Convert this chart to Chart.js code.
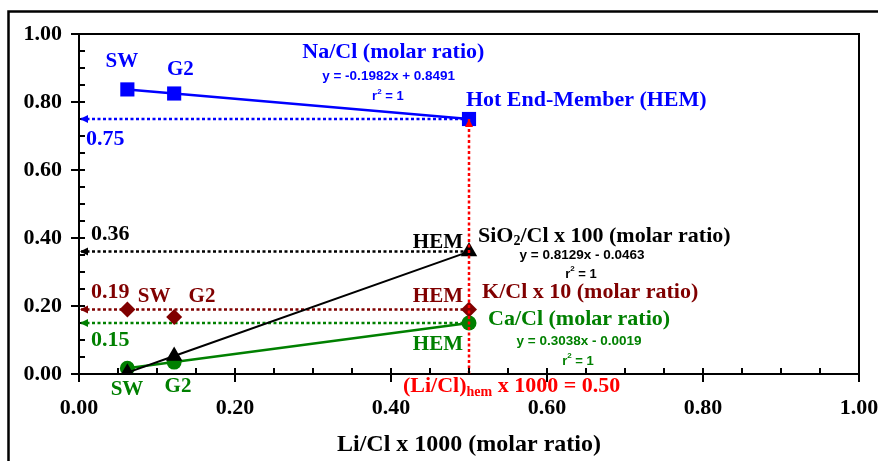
<!DOCTYPE html>
<html><head><meta charset="utf-8">
<script src="https://cdn.jsdelivr.net/npm/chart.js@4.4.1/dist/chart.umd.min.js"></script>
<style>html,body{margin:0;padding:0;background:#fff;overflow:hidden}#wrap{width:878px;height:461px}</style>
</head><body><div id="wrap"><canvas id="c" width="878" height="461"></canvas></div>
<script>
// ---- data ----
const samples = ['SW', 'G2', 'HEM'];
const liCl   = [0.062, 0.122, 0.50];     // Li/Cl x 1000
const naCl   = [0.837, 0.825, 0.750];    // Na/Cl
const sio2Cl = [0.004, 0.053, 0.360];    // SiO2/Cl x 100
const kCl    = [0.190, 0.168, 0.190];    // K/Cl x 10
const caCl   = [0.017, 0.035, 0.150];    // Ca/Cl
const hemLiCl = 0.50;
const axisMin = 0, axisMax = 1, majorStep = 0.2, minorStep = 0.05;

const BLUE = '#0000ff', BLACK = '#000000', DRED = '#800000', GREEN = '#008000', RED = '#ff0000';
const SERIF = "'Liberation Serif', 'Times New Roman', serif";
const SANS = "'Liberation Sans', Arial, sans-serif";
const fS = (px) => `bold ${px}px ${SERIF}`;
const fA = (px) => `bold ${px}px ${SANS}`;

const pts = (ys) => liCl.map((x, i) => ({x, y: ys[i]}));
const hemIdx = samples.indexOf('HEM');
const toAxis = (ys) => [{x: hemLiCl, y: ys[hemIdx]}, {x: axisMin, y: ys[hemIdx]}];

const dotted = (data, color, order) => ({
  data, showLine: true, borderColor: color, borderWidth: 2.5, borderDash: [3, 2.5],
  pointRadius: 0, pointHoverRadius: 0, fill: false, order
});

const datasets = [
  dotted([{x: hemLiCl, y: 0}, {x: hemLiCl, y: naCl[hemIdx]}], RED, -1),
  dotted(toAxis(naCl), BLUE, 5),
  dotted(toAxis(sio2Cl), BLACK, 5),
  dotted(toAxis(kCl), DRED, 5),
  dotted(toAxis(caCl), GREEN, 5),
  {data: pts(naCl), showLine: true, borderColor: BLUE, borderWidth: 2.5, backgroundColor: BLUE,
   pointStyle: 'rect', pointRadius: 10, pointBorderWidth: 0, order: 2},
  {data: pts(caCl), showLine: true, borderColor: GREEN, borderWidth: 2.5, backgroundColor: GREEN,
   pointStyle: 'circle', pointRadius: 7.5, pointBorderWidth: 0, order: 3},
  {data: pts(sio2Cl), showLine: true, borderColor: BLACK, borderWidth: 2, backgroundColor: BLACK,
   pointStyle: 'triangle', pointRadius: 9.5, pointBorderWidth: 0, order: 1},
  {data: pts(kCl), showLine: false, borderColor: DRED, backgroundColor: DRED,
   pointStyle: 'rectRot', pointRadius: 8, pointBorderWidth: 0, order: 2}
];

// text annotations, positioned in axis units
const R = (t, f, dy) => [t, f, dy || 0];
const sup2 = () => [R('r', fA(13)), R('2', fA(8), -5), R(' = 1', fA(13))];
const notes = [
  {x: 0.055, y: 0.918, a: 'center', c: BLUE, s: [R('SW', fS(21))]},
  {x: 0.130, y: 0.894, a: 'center', c: BLUE, s: [R('G2', fS(21))]},
  {x: 0.403, y: 0.947, a: 'center', c: BLUE, s: [R('Na/Cl (molar ratio)', fS(22))]},
  {x: 0.397, y: 0.8765, a: 'center', c: BLUE, s: [R('y = -0.1982x + 0.8491', fA(13.5))]},
  {x: 0.396, y: 0.815, a: 'center', c: BLUE, s: sup2()},
  {x: 0.496, y: 0.806, a: 'left', c: BLUE, s: [R('Hot End-Member (HEM)', fS(22))]},
  {x: 0.009, y: 0.691, a: 'left', c: BLUE, s: [R(naCl[hemIdx].toFixed(2), fS(22))]},

  {x: 0.0154, y: 0.412, a: 'left', c: BLACK, s: [R(sio2Cl[hemIdx].toFixed(2), fS(22))]},
  {x: 0.4923, y: 0.388, a: 'right', c: BLACK, s: [R('HEM', fS(21))]},
  {x: 0.5115, y: 0.406, a: 'left', c: BLACK, s: [R('SiO', fS(22)), R('2', fS(14), 5), R('/Cl x 100 (molar ratio)', fS(22))]},
  {x: 0.645, y: 0.350, a: 'center', c: BLACK, s: [R('y = 0.8129x - 0.0463', fA(13.5))]},
  {x: 0.6436, y: 0.294, a: 'center', c: BLACK, s: sup2()},

  {x: 0.0154, y: 0.2412, a: 'left', c: DRED, s: [R(kCl[hemIdx].toFixed(2), fS(22))]},
  {x: 0.0962, y: 0.2265, a: 'center', c: DRED, s: [R('SW', fS(21))]},
  {x: 0.1577, y: 0.2265, a: 'center', c: DRED, s: [R('G2', fS(21))]},
  {x: 0.4923, y: 0.2265, a: 'right', c: DRED, s: [R('HEM', fS(21))]},
  {x: 0.5167, y: 0.2412, a: 'left', c: DRED, s: [R('K/Cl x 10 (molar ratio)', fS(22))]},

  {x: 0.0154, y: 0.100, a: 'left', c: GREEN, s: [R(caCl[hemIdx].toFixed(2), fS(22))]},
  {x: 0.4923, y: 0.088, a: 'right', c: GREEN, s: [R('HEM', fS(21))]},
  {x: 0.5244, y: 0.1618, a: 'left', c: GREEN, s: [R('Ca/Cl (molar ratio)', fS(22))]},
  {x: 0.641, y: 0.097, a: 'center', c: GREEN, s: [R('y = 0.3038x - 0.0019', fA(13.5))]},
  {x: 0.6397, y: 0.038, a: 'center', c: GREEN, s: sup2()},
  {x: 0.0615, y: -0.047, a: 'center', c: GREEN, s: [R('SW', fS(21))]},
  {x: 0.1269, y: -0.038, a: 'center', c: GREEN, s: [R('G2', fS(21))]},

  {x: 0.4154, y: -0.0353, a: 'left', c: RED, s: [R('(Li/Cl)', fS(22)), R('hem', fS(14), 6), R(' x 1000 = ' + hemLiCl.toFixed(2), fS(22))]}
];

function rich(ctx, segs, x, y, align, color) {
  let w = 0;
  const ws = segs.map(s => { ctx.font = s[1]; const m = ctx.measureText(s[0]).width; w += m; return m; });
  let cx = align === 'center' ? x - w / 2 : align === 'right' ? x - w : x;
  ctx.fillStyle = color; ctx.textBaseline = 'middle'; ctx.textAlign = 'left';
  segs.forEach((s, i) => { ctx.font = s[1]; ctx.fillText(s[0], cx, y + s[2]); cx += ws[i]; });
}

function arrow(ctx, tx, ty, dir, color) {
  const L = 8, H = 4;
  ctx.fillStyle = color; ctx.beginPath();
  if (dir === 'left') { ctx.moveTo(tx, ty); ctx.lineTo(tx + L, ty - H); ctx.lineTo(tx + L, ty + H); }
  else { ctx.moveTo(tx, ty); ctx.lineTo(tx - H, ty + L); ctx.lineTo(tx + H, ty + L); }
  ctx.closePath(); ctx.fill();
}

const decor = {
  id: 'decor',
  beforeDraw(chart) {
    const ctx = chart.ctx; ctx.save(); ctx.fillStyle = '#fff';
    ctx.fillRect(0, 0, chart.width, chart.height); ctx.restore();
  },
  afterDatasetsDraw(chart) {
    const ctx = chart.ctx, xs = chart.scales.x, ys = chart.scales.y, a = chart.chartArea;
    ctx.save();
    ctx.strokeStyle = '#000'; ctx.lineWidth = 2;
    ctx.beginPath(); ctx.moveTo(a.left, a.top); ctx.lineTo(a.right, a.top); ctx.lineTo(a.right, a.bottom); ctx.stroke();
    for (let v = axisMin; v <= axisMax + 1e-9; v += minorStep) {
      const px = xs.getPixelForValue(v), py = ys.getPixelForValue(v);
      ctx.beginPath(); ctx.moveTo(px, a.bottom); ctx.lineTo(px, a.bottom - 6); ctx.stroke();
      ctx.beginPath(); ctx.moveTo(a.left, py); ctx.lineTo(a.left + 6, py); ctx.stroke();
    }
    const x0 = xs.getPixelForValue(axisMin) + 1;
    [[naCl, BLUE], [sio2Cl, BLACK], [kCl, DRED], [caCl, GREEN]].forEach(([arr, col]) => {
      arrow(ctx, x0, ys.getPixelForValue(arr[hemIdx]), 'left', col);
    });
    arrow(ctx, xs.getPixelForValue(hemLiCl), ys.getPixelForValue(naCl[hemIdx]), 'up', RED);
    ctx.lineWidth = 2.5; ctx.strokeStyle = '#000';
    ctx.strokeRect(8.5, 11.5, 1200, 1200);
    notes.forEach(n => rich(ctx, n.s, xs.getPixelForValue(n.x), ys.getPixelForValue(n.y), n.a, n.c));
    ctx.restore();
  }
};

const fixX = (s) => { s.height = 87; s.paddingLeft = 0; s.paddingRight = 0; };
const fixY = (s) => { s.width = 79; s.paddingTop = 0; s.paddingBottom = 0; };

new Chart(document.getElementById('c'), {
  type: 'scatter',
  data: {datasets},
  options: {
    responsive: false, animation: false, devicePixelRatio: 1,
    layout: {padding: {left: 0, right: 19, top: 34, bottom: 0}},
    plugins: {legend: {display: false}, tooltip: {enabled: false}},
    scales: {
      x: {
        type: 'linear', min: axisMin, max: axisMax,
        afterFit: fixX,
        ticks: {stepSize: majorStep, color: '#000', font: {family: SERIF, weight: 'bold', size: 22}, padding: 13,
                maxRotation: 0, autoSkip: false, callback: v => v.toFixed(2)},
        grid: {display: true, drawOnChartArea: false, drawTicks: true, tickLength: 8, color: '#000', lineWidth: 2},
        border: {display: true, color: '#000', width: 2},
        title: {display: true, text: 'Li/Cl x 1000 (molar ratio)', color: '#000',
                font: {family: SERIF, weight: 'bold', size: 24}, padding: {top: 0, bottom: 2}}
      },
      y: {
        type: 'linear', min: axisMin, max: axisMax,
        afterFit: fixY,
        ticks: {stepSize: majorStep, color: '#000', font: {family: SERIF, weight: 'bold', size: 22}, padding: 9,
                callback: v => v.toFixed(2)},
        grid: {display: true, drawOnChartArea: false, drawTicks: true, tickLength: 8, color: '#000', lineWidth: 2},
        border: {display: true, color: '#000', width: 2}
      }
    }
  },
  plugins: [decor]
});
</script></body></html>
